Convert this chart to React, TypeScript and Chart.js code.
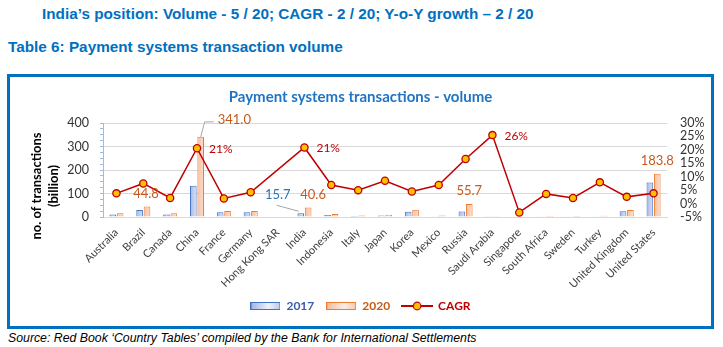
import React, { useEffect, useRef } from 'react';
import { Chart, registerables } from 'chart.js';

Chart.register(...registerables);

// ---------- data ----------
const categories = [
  'Australia', 'Brazil', 'Canada', 'China', 'France', 'Germany', 'Hong Kong SAR',
  'India', 'Indonesia', 'Italy', 'Japan', 'Korea', 'Mexico', 'Russia',
  'Saudi Arabia', 'Singapore', 'South Africa', 'Sweden', 'Turkey',
  'United Kingdom', 'United States',
];
const volume2017 = [11, 30, 11, 133, 20, 20, null, 15.7, 9, 4.5, 6, 22, 3.5, 23, 1.5, 2.0, 3.5, 3.6, 3.5, 24, 147];
const volume2020 = [15.5, 44.8, 15.5, 341.0, 25.5, 25.5, null, 40.6, 12.5, 6.5, 10, 31, 6, 55.7, 3.0, 1.8, 3.9, 3.8, 5.5, 30, 183.8];
const cagr = [3.8, 7.5, 2.1, 20.6, 1.9, 4.2, null, 20.9, 6.9, 5.0, 8.5, 4.5, 6.9, 16.6, 25.5, -3.3, 3.6, 2.1, 7.9, 2.5, 3.8];

const leftAxisMin = 0;
const leftAxisMax = 400;
const leftAxisStep = 100;
const rightAxisMin = -5;
const rightAxisMax = 30;
const rightAxisStep = 5;

const labeled2017 = ['India'];
const labeled2020 = ['Brazil', 'China', 'India', 'Russia', 'United States'];
const labeledCagr = ['China', 'India', 'Saudi Arabia'];

const headerText = 'India\u2019s position: Volume - 5 / 20; CAGR - 2 / 20; Y-o-Y growth \u2013 2 / 20';
const tableTitle = 'Table 6: Payment systems transaction volume';
const chartTitle = 'Payment systems transactions - volume';
const yTitleLines = ['no. of transactions', '(billion)'];
const sourceText = 'Source: Red Book \u2018Country Tables\u2019 compiled by the Bank for International Settlements';

// ---------- styles ----------
const BLUE = '#4472c4';
const ORANGE = '#ed7d31';
const RED = '#c00000';
const FONT = 'Lato, "Noto Sans", sans-serif';
const CAT_PCT = 0.55;
const BAR_PCT = 0.9;

function barGradient(c: any, left: boolean, c0: string, c1: string) {
  const chart = c.chart;
  const xs = chart.scales && chart.scales.x;
  if (!chart.chartArea || !xs || c.dataIndex == null) return c0;
  const cx = xs.getPixelForValue(c.dataIndex);
  const slot = (xs.width / categories.length) * CAT_PCT / 2;
  const x0 = left ? cx - slot : cx;
  const x1 = left ? cx : cx + slot;
  const g = chart.ctx.createLinearGradient(x0, 0, x1, 0);
  g.addColorStop(0, c0);
  g.addColorStop(1, c1);
  return g;
}

function makeBoxIcon(stops: string[], stroke: string) {
  const c = document.createElement('canvas');
  c.width = 30; c.height = 8;
  const g = c.getContext('2d')!;
  const grad = g.createLinearGradient(0, 0, 30, 0);
  grad.addColorStop(0, stops[0]);
  grad.addColorStop(0.6, stops[1]);
  grad.addColorStop(1, stops[2]);
  g.fillStyle = grad;
  g.fillRect(0.5, 0.5, 29, 7);
  g.strokeStyle = stroke;
  g.lineWidth = 1;
  g.strokeRect(0.5, 0.5, 29, 7);
  return c;
}

function makeLineIcon() {
  const c = document.createElement('canvas');
  c.width = 32; c.height = 10;
  const g = c.getContext('2d')!;
  g.strokeStyle = RED;
  g.lineWidth = 2;
  g.beginPath(); g.moveTo(0, 5); g.lineTo(32, 5); g.stroke();
  g.beginPath(); g.arc(16, 5, 3.8, 0, Math.PI * 2);
  g.fillStyle = '#ffc000'; g.fill();
  g.lineWidth = 1.2; g.stroke();
  return c;
}

const yTitlePlugin = {
  id: 'yTitle',
  afterDraw(chart: any) {
    const { ctx, chartArea } = chart;
    const cy = (chartArea.top + chartArea.bottom) / 2 + 16;
    ctx.save();
    ctx.fillStyle = '#000';
    ctx.font = `bold 13px ${FONT}`;
    ctx.textAlign = 'center';
    ctx.textBaseline = 'middle';
    [chartArea.left - 66, chartArea.left - 49].forEach((x, i) => {
      ctx.save();
      ctx.translate(x, cy);
      ctx.rotate(-Math.PI / 2);
      ctx.fillText(yTitleLines[i], 0, 0);
      ctx.restore();
    });
    ctx.restore();
  },
};

const valueLabelPlugin = {
  id: 'valueLabels',
  afterDatasetsDraw(chart: any) {
    const { ctx } = chart;
    ctx.save();
    ctx.textBaseline = 'middle';
    // 2017 labels
    labeled2017.forEach((name) => {
      const i = categories.indexOf(name);
      const el = chart.getDatasetMeta(0).data[i];
      if (!el) return;
      const v = volume2017[i] as number;
      ctx.strokeStyle = '#a6a6a6'; ctx.lineWidth = 1;
      ctx.beginPath(); ctx.moveTo(el.x - 24, el.y - 8); ctx.lineTo(el.x - 2, el.y - 2); ctx.stroke();
      ctx.fillStyle = '#2e75b6';
      ctx.font = `13px ${FONT}`;
      ctx.textAlign = 'center';
      ctx.fillText(v.toFixed(1), el.x - 23, el.y - 18);
    });
    // 2020 labels
    labeled2020.forEach((name) => {
      const i = categories.indexOf(name);
      const el = chart.getDatasetMeta(1).data[i];
      if (!el) return;
      const v = volume2020[i] as number;
      ctx.fillStyle = '#c65a1e';
      ctx.font = `13px ${FONT}`;
      if (name === 'China') {
        ctx.strokeStyle = '#a6a6a6'; ctx.lineWidth = 1;
        ctx.beginPath();
        ctx.moveTo(el.x, el.y); ctx.lineTo(el.x + 4, el.y - 15); ctx.lineTo(el.x + 13, el.y - 15);
        ctx.stroke();
        ctx.textAlign = 'left';
        ctx.fillText(v.toFixed(1), el.x + 17, el.y - 17);
      } else {
        ctx.textAlign = 'center';
        const dx = name === 'India' ? 5 : name === 'Brazil' ? -1 : 0;
        ctx.fillText(v.toFixed(1), el.x + dx, el.y - 13);
      }
    });
    // CAGR labels
    labeledCagr.forEach((name) => {
      const i = categories.indexOf(name);
      const el = chart.getDatasetMeta(2).data[i];
      if (!el) return;
      const v = cagr[i] as number;
      ctx.fillStyle = RED;
      ctx.font = `12px ${FONT}`;
      ctx.textAlign = 'left';
      ctx.fillText(`${Math.round(v)}%`, el.x + 12, el.y + 1);
    });
    ctx.restore();
  },
};

export default function App() {
  const ref = useRef<HTMLCanvasElement>(null);

  useEffect(() => {
    if (!ref.current) return;
    const icon2017 = makeBoxIcon(['#9fb4e4', '#eef2fb', '#b9c8ea'], BLUE);
    const icon2020 = makeBoxIcon(['#f7b999', '#fdeee5', '#f8c7ad'], ORANGE);
    const iconCagr = makeLineIcon();

    const chart = new Chart(ref.current, {
      type: 'bar',
      data: {
        labels: categories,
        datasets: [
          {
            type: 'bar',
            label: '2017',
            data: volume2017,
            yAxisID: 'y',
            order: 2,
            backgroundColor: (c: any) => barGradient(c, true, '#9db4e6', '#dfe7f7'),
            borderColor: BLUE,
            borderWidth: 1,
            categoryPercentage: CAT_PCT,
            barPercentage: BAR_PCT,
          } as any,
          {
            type: 'bar',
            label: '2020',
            data: volume2020,
            yAxisID: 'y',
            order: 2,
            backgroundColor: (c: any) => barGradient(c, false, '#f8bc9c', '#fde0d0'),
            borderColor: ORANGE,
            borderWidth: 1,
            categoryPercentage: CAT_PCT,
            barPercentage: BAR_PCT,
          } as any,
          {
            type: 'line',
            label: 'CAGR',
            data: cagr,
            yAxisID: 'y1',
            order: 1,
            borderColor: RED,
            borderWidth: 1.5,
            pointRadius: 3.6,
            pointBackgroundColor: '#ffc000',
            pointBorderColor: RED,
            pointBorderWidth: 1.3,
            spanGaps: true,
            tension: 0,
          } as any,
        ],
      },
      options: {
        animation: false,
        responsive: false,
        maintainAspectRatio: false,
        layout: { padding: { left: 0, right: 0, top: 0, bottom: 4 } },
        plugins: {
          title: {
            display: true,
            text: chartTitle,
            color: '#1f74c4',
            font: { family: FONT, size: 15, weight: 'bold' },
            padding: { top: 11, bottom: 17 },
          },
          legend: {
            display: true,
            position: 'bottom',
            labels: {
              usePointStyle: true,
              pointStyleWidth: 30,
              padding: 12,
              font: { family: FONT, size: 12, weight: 'bold' },
              generateLabels: () => [
                { text: '2017', pointStyle: icon2017, fontColor: '#3a5ba8', datasetIndex: 0, lineWidth: 0, hidden: false } as any,
                { text: '2020', pointStyle: icon2020, fontColor: '#c55a11', datasetIndex: 1, lineWidth: 0, hidden: false } as any,
                { text: 'CAGR', pointStyle: iconCagr, fontColor: RED, datasetIndex: 2, lineWidth: 0, hidden: false } as any,
              ],
            },
          },
          tooltip: { enabled: false },
        },
        scales: {
          x: {
            grid: { display: false, drawTicks: false },
            border: { display: true, color: '#d9d9d9' },
            ticks: {
              autoSkip: false,
              minRotation: 45,
              maxRotation: 45,
              padding: 9,
              color: '#404040',
              font: { family: FONT, size: 11 },
            },
            afterFit: (s: any) => { s.height = 71; },
          },
          y: {
            position: 'left',
            min: leftAxisMin,
            max: leftAxisMax,
            grid: {
              color: (c: any) => (c.tick && c.tick.value % leftAxisStep === 0 ? '#d9d9d9' : 'rgba(0,0,0,0)'),
              tickColor: '#9dbbe3',
              tickLength: 3,
              drawTicks: true,
            },
            border: { display: true, color: '#9dbbe3' },
            ticks: {
              stepSize: leftAxisStep / 4,
              maxTicksLimit: 100,
              autoSkip: false,
              padding: 11,
              color: '#333333',
              font: { family: FONT, size: 12.5 },
              callback: (v: any) => (Number(v) % leftAxisStep === 0 ? String(v) : ''),
            },
            afterFit: (s: any) => { s.width = 93; },
          },
          y1: {
            position: 'right',
            min: rightAxisMin,
            max: rightAxisMax,
            grid: { display: false, drawTicks: false },
            border: { display: false },
            ticks: {
              stepSize: rightAxisStep,
              autoSkip: false,
              padding: 13,
              color: '#333333',
              font: { family: FONT, size: 12.5, lineHeight: 1 },
              callback: (v: any) => `${v}%`,
            },
            afterFit: (s: any) => { s.width = 44; },
          },
        },
      } as any,
      plugins: [yTitlePlugin, valueLabelPlugin],
    });
    return () => chart.destroy();
  }, []);

  const narrow = '"Liberation Sans Narrow", "Arial Narrow", "Liberation Sans", Arial, sans-serif';

  return (
    <div style={{ position: 'absolute', left: 0, top: 0, width: 723, height: 347, background: '#fff', overflow: 'hidden' }}>
      <div style={{ position: 'absolute', left: 42, top: 5, lineHeight: '18px', fontFamily: narrow, fontWeight: 'bold', fontSize: 15.3, color: '#0070c0', whiteSpace: 'nowrap' }}>
        {headerText}
      </div>
      <div style={{ position: 'absolute', left: 8, top: 38, lineHeight: '18px', fontFamily: narrow, fontWeight: 'bold', fontSize: 15.3, color: '#0070c0', whiteSpace: 'nowrap' }}>
        {tableTitle}
      </div>
      <div style={{ position: 'absolute', left: 7, top: 74, width: 701, height: 249, border: '3px solid #0070c0' }}>
        <canvas ref={ref} width={701} height={249} style={{ display: 'block', width: 701, height: 249 }} />
      </div>
      <div style={{ position: 'absolute', left: 8, top: 329, lineHeight: '18px', fontFamily: '"Liberation Sans", Arial, sans-serif', fontStyle: 'italic', fontSize: 12.3, color: '#000', whiteSpace: 'nowrap' }}>
        {sourceText}
      </div>
    </div>
  );
}
